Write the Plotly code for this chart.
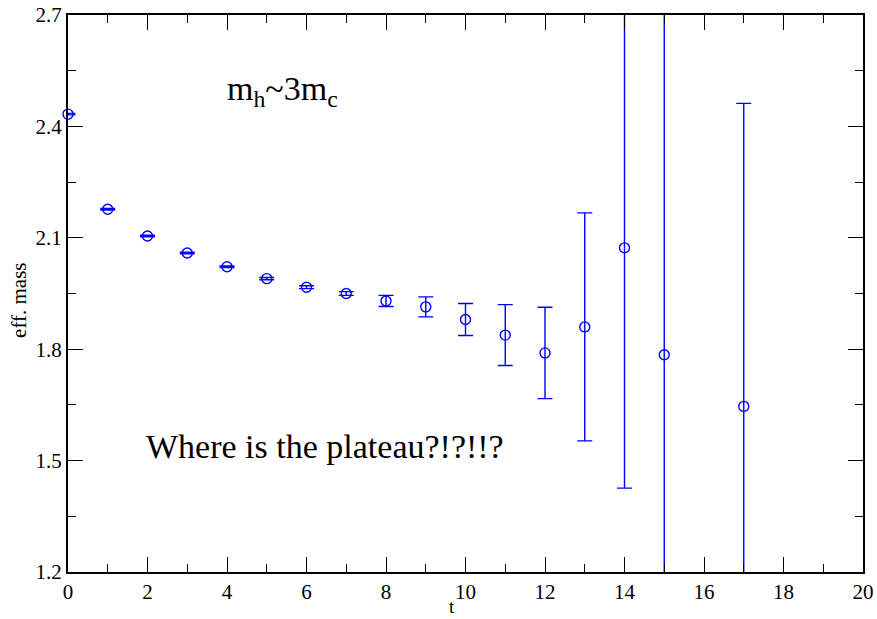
import plotly.graph_objects as go

# effective mass vs. time slice
t = [0, 1, 2, 3, 4, 5, 6, 7, 8, 9, 10, 11, 12, 13, 14, 15, 17]
eff_mass = [2.433, 2.177, 2.105, 2.059, 2.022, 1.990, 1.967, 1.950, 1.930,
            1.914, 1.880, 1.838, 1.790, 1.860, 2.073, 1.785, 1.646]
err = [0.002, 0.002, 0.002, 0.002, 0.002, 0.003, 0.004, 0.005, 0.015,
       0.027, 0.043, 0.082, 0.123, 0.307, 0.647, 1.000, 0.816]

x_ticks = [0, 2, 4, 6, 8, 10, 12, 14, 16, 18, 20]
y_ticks = [1.2, 1.5, 1.8, 2.1, 2.4, 2.7]

blue = "#0000ff"
serif = "'Liberation Serif', 'Times New Roman', Times, serif"

fig = go.Figure()

# error bars (clipped to the plotting frame)
fig.add_trace(go.Scatter(
    x=t, y=eff_mass, mode="markers",
    marker=dict(size=10, color="rgba(0,0,0,0)", line=dict(width=0)),
    error_y=dict(type="data", array=err, visible=True, color=blue,
                 thickness=1.4, width=7.5),
    hoverinfo="skip", showlegend=False,
))

# open circle markers (allowed to overlap the frame)
fig.add_trace(go.Scatter(
    x=t, y=eff_mass, mode="markers", cliponaxis=False,
    marker=dict(symbol="circle-open", size=10, color=blue,
                line=dict(width=1.4, color=blue)),
    showlegend=False,
))

axis_common = dict(
    showline=True, linecolor="black", linewidth=2, mirror="allticks",
    ticks="inside", ticklen=15, tickwidth=1.3, tickcolor="black",
    showgrid=False, zeroline=False, automargin=False,
    tickfont=dict(family=serif, size=21, color="black"),
)

fig.update_xaxes(
    range=[0, 20], tickvals=x_ticks, ticktext=[str(v) for v in x_ticks],
    minor=dict(ticks="inside", ticklen=8, tickwidth=1.3, tickcolor="black",
               dtick=1, showgrid=False),
    **axis_common,
)
fig.update_yaxes(
    range=[1.2, 2.7], tickvals=y_ticks, ticktext=[f"{v:.1f}" for v in y_ticks],
    minor=dict(ticks="inside", ticklen=8, tickwidth=1.3, tickcolor="black",
               dtick=0.15, tick0=1.2, showgrid=False),
    **axis_common,
)

# axis labels
fig.add_annotation(
    x=9.66, y=-0.083, xref="x", yref="paper", showarrow=False,
    xanchor="center", yanchor="bottom", text="t", borderpad=0,
    font=dict(family=serif, size=19, color="black"),
)
fig.add_annotation(
    x=-0.062, y=0.488, xref="paper", yref="paper", showarrow=False,
    xanchor="center", yanchor="middle", textangle=-90, text="eff. mass",
    font=dict(family=serif, size=21, color="black"),
)

# in-plot notes
fig.add_annotation(
    x=5.4, y=2.495, xref="x", yref="y", showarrow=False,
    text="m<sub>h</sub>~3m<sub>c</sub>",
    font=dict(family=serif, size=34, color="black"),
)
fig.add_annotation(
    x=6.47, y=1.538, xref="x", yref="y", showarrow=False,
    text="Where is the plateau?!?!!?",
    font=dict(family=serif, size=34, color="black"),
)

fig.update_layout(
    width=877, height=619,
    margin=dict(l=68, r=14, t=15, b=47),
    paper_bgcolor="white", plot_bgcolor="white",
    font=dict(family=serif, color="black"),
)

fig.write_html("out.html")
